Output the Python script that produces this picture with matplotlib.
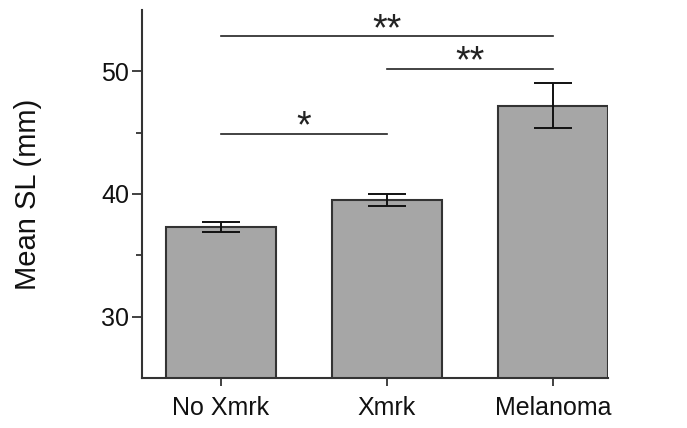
import matplotlib.pyplot as plt
import numpy as np

plt.rcParams['font.family'] = ['Liberation Sans', 'DejaVu Sans']

# data
groups = ['No Xmrk', 'Xmrk', 'Melanoma']
means = [37.3, 39.5, 47.2]
errs = [0.4, 0.48, 1.87]
# significance brackets: (from, to, height, label)
sig_pairs = [(0, 2, 52.85, '**'), (1, 2, 50.2, '**'), (0, 1, 44.9, '*')]

x = np.arange(len(groups))
edge = '#333333'

fig = plt.figure(figsize=(6.87, 4.28), dpi=100)
ax = fig.add_axes([0.206, 0.117, 0.6795, 0.86])

ax.bar(x, means, width=0.667, color='#a6a6a6', edgecolor=edge, linewidth=1.5, zorder=2)
ax.errorbar(x, means, yerr=errs, fmt='none', ecolor='#111111', elinewidth=1.4,
            capsize=14, capthick=1.4, zorder=3)

for a, b, h, lab in sig_pairs:
    ax.plot([a, b], [h, h], color='#222222', lw=1.2)
    ax.text((a + b) / 2, h - 0.3, lab, ha='center', va='baseline', fontsize=27, color='#222222')

ax.set_xlim(-0.479, 2.333)
ax.set_ylim(25, 55)
ax.set_yticks([30, 40, 50])
ax.set_yticks([35, 45], minor=True)
ax.set_xticks(x)
ax.set_xticklabels(groups)
ax.tick_params(axis='both', labelsize=18, colors=edge, width=1.3, length=7, direction='out')
ax.tick_params(axis='y', which='minor', length=4, width=1.3, colors=edge)
ax.tick_params(axis='x', length=6, pad=7)
ax.tick_params(axis='y', pad=2)
for lbl in ax.get_xticklabels() + ax.get_yticklabels():
    lbl.set_color('#111111')

ax.spines['top'].set_visible(False)
ax.spines['right'].set_visible(False)
for s in ['left', 'bottom']:
    ax.spines[s].set_color(edge)
    ax.spines[s].set_linewidth(1.5)

ax.set_ylabel('Mean SL (mm)', fontsize=21, color='#111111')
ax.yaxis.set_label_coords(-0.214, 0.5)

fig.savefig('out.png', dpi=100)
